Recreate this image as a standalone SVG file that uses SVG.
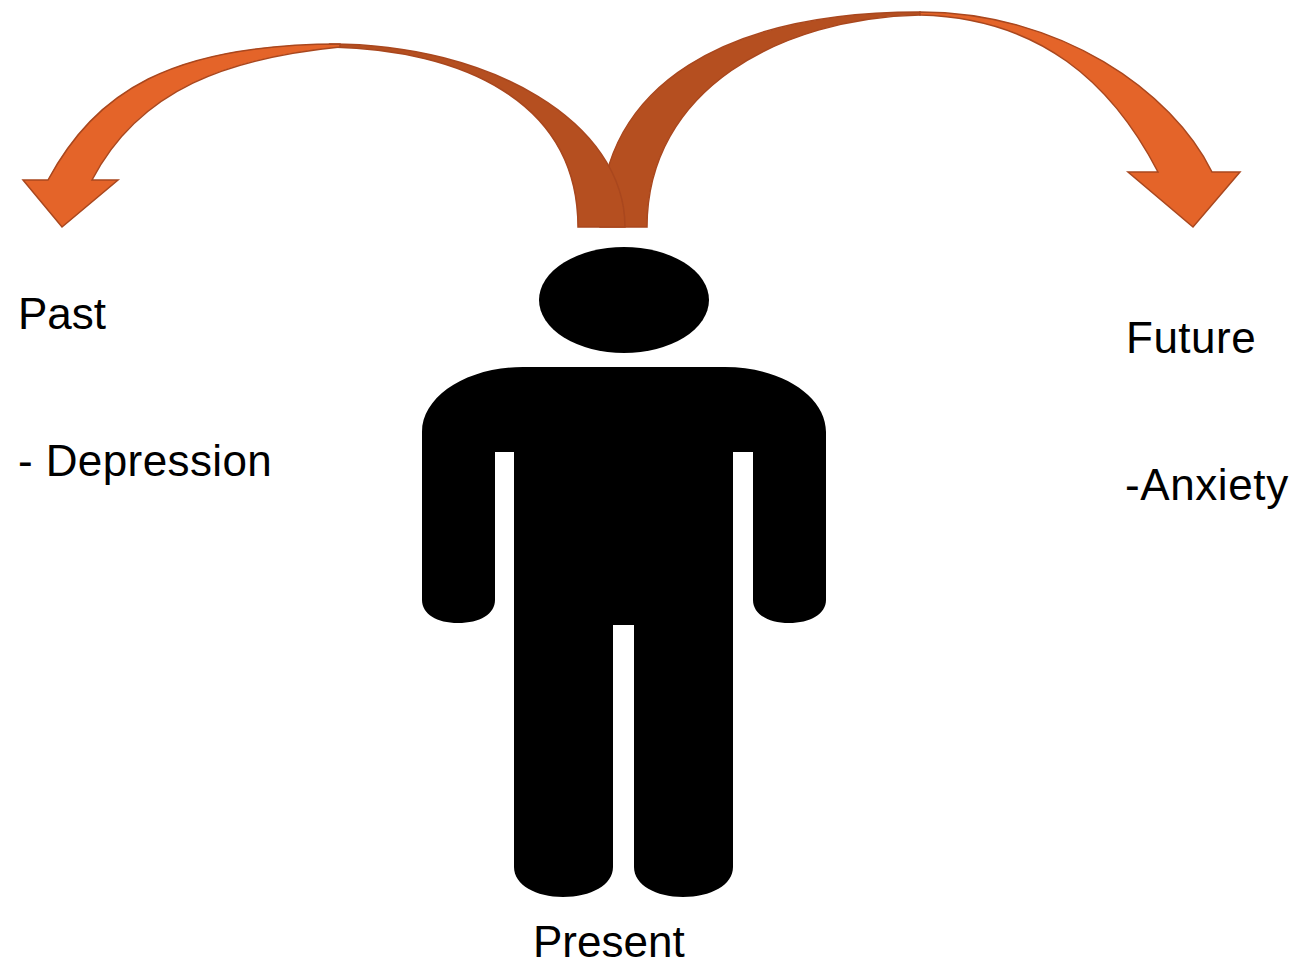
<svg xmlns="http://www.w3.org/2000/svg" width="1296" height="967" viewBox="0 0 1296 967">
<style>
.lbl{font-family:"Liberation Sans",Arial,sans-serif;font-size:44px;fill:#000}
.light{fill:#E46429;stroke:#A9471E;stroke-width:1.5;stroke-linejoin:miter}
.dark{fill:#B54F20;stroke:#A9471E;stroke-width:1.5;stroke-linejoin:miter}
.fig{fill:#000}
</style>
<rect width="1296" height="967" fill="#fff"/>
<g id="connectors">
  <g id="arrow-future">
    <path class="dark" d="M 600,227 C 600,82 730,12 920,12 L 920,15 C 780,18 647,90 647,227 Z"/>
    <path class="light" d="M 920,12 C 1060,12 1172,91 1212,172 L 1240,172 L 1193,227 L 1128,172 L 1158,172 C 1112,83 1040,18 920,15 Z"/>
  </g>
  <g id="arrow-past">
    <path class="dark" d="M 330,44 C 490,44 625,122 625,227 L 578,227 C 578,100 460,50 332,47 Z"/>
    <path class="light" d="M 48,180 C 96,92 170,44 340,44 L 340,47 C 230,58 140,88 92,180 L 118,180 L 62,227 L 23,180 Z"/>
  </g>
</g>
<g id="person">
  <ellipse class="fig" cx="624" cy="300" rx="85" ry="53"/>
  <path class="fig" d="M 523,367 H 725 C 781,367 826,396 826,432 V 600 C 826,614 810,623 789,623 C 768,623 753,614 753,600 V 452 H 733 V 867 C 733,885 711,897 683,897 C 656,897 634,885 634,867 V 625 H 613 V 867 C 613,885 591,897 563,897 C 536,897 514,885 514,867 V 452 H 495 V 600 C 495,614 480,623 458,623 C 437,623 422,614 422,600 V 432 C 422,396 467,367 523,367 Z"/>
</g>
<g id="label-past">
  <text class="lbl" x="18" y="329">Past</text>
  <text class="lbl" x="18" y="476" letter-spacing="0.4">- Depression</text>
</g>
<g id="label-future">
  <text class="lbl" x="1126" y="353" letter-spacing="0.5">Future</text>
  <text class="lbl" x="1125" y="500" letter-spacing="0.6">-Anxiety</text>
</g>
<g id="label-present">
  <text class="lbl" x="533" y="957">Present</text>
</g>
</svg>
